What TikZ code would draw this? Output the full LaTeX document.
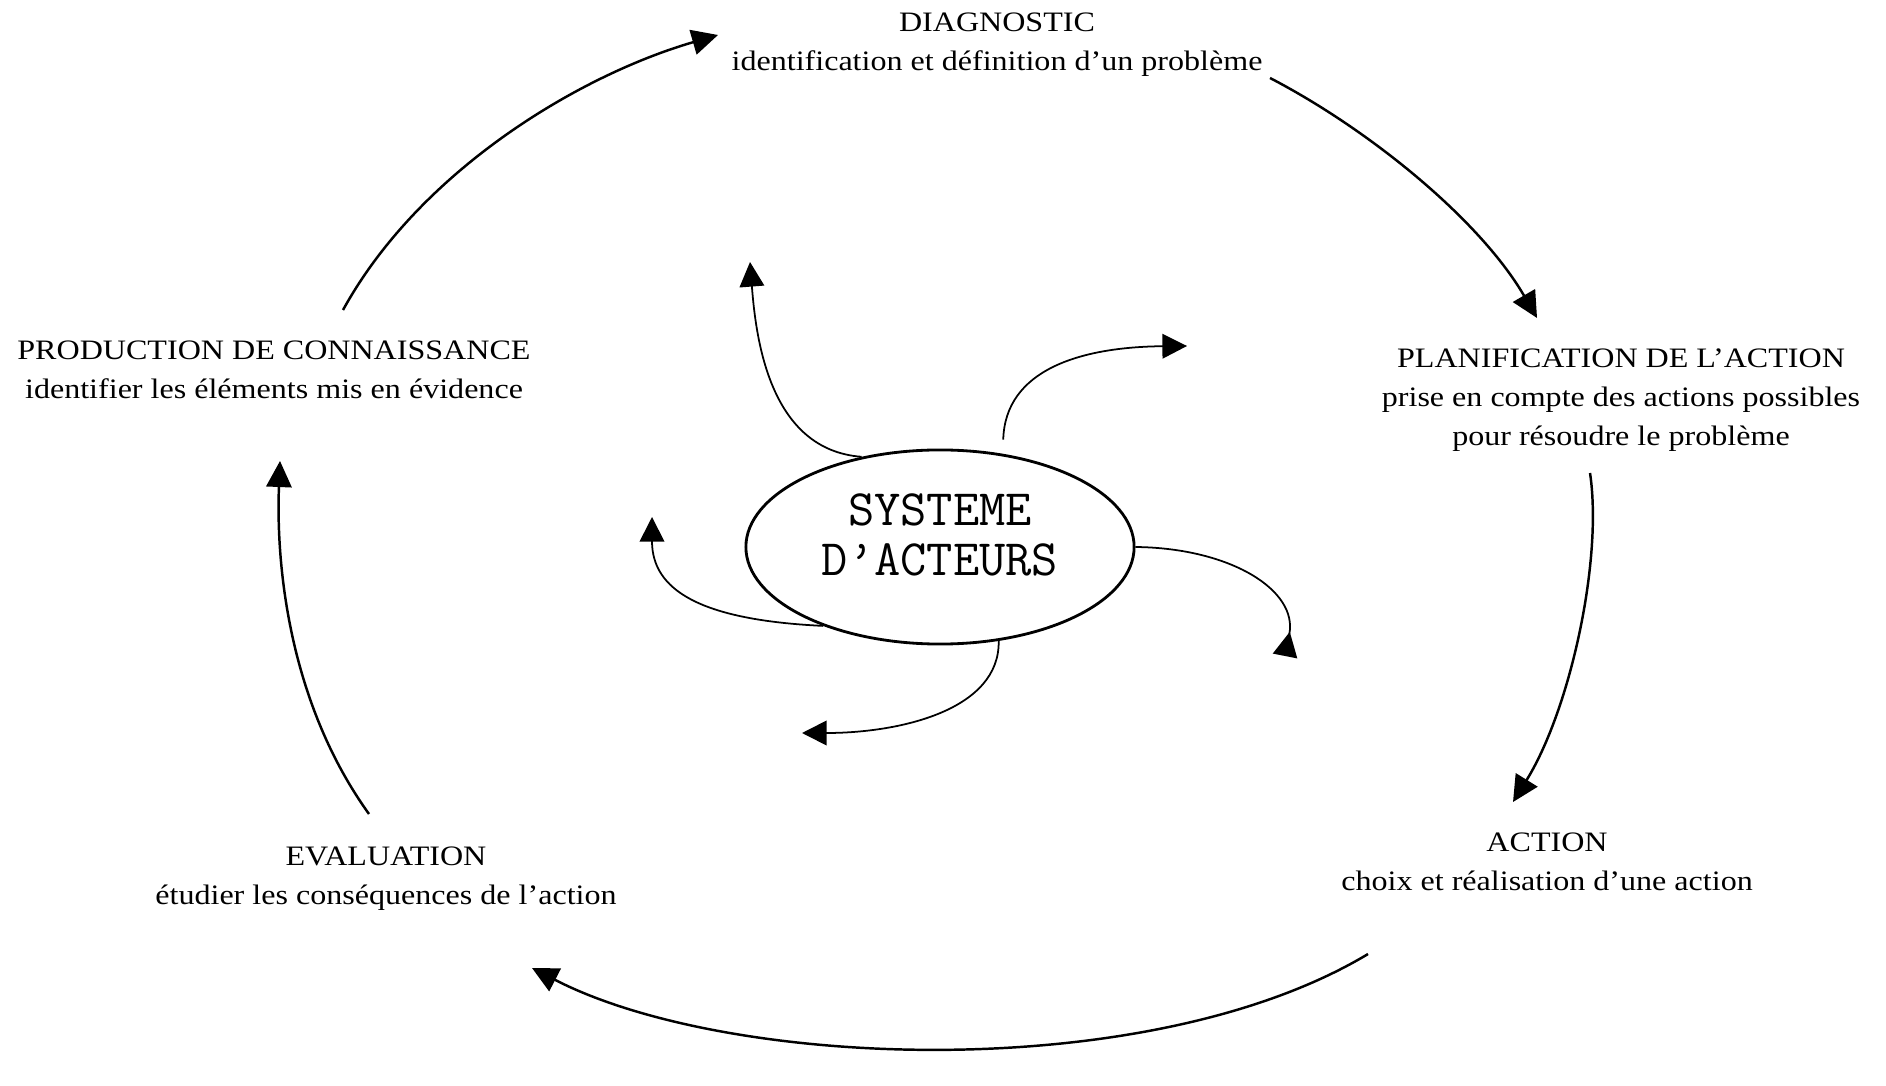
\documentclass[tikz,border=0pt]{standalone}
\usepackage{fontspec}
\setmainfont{Liberation Serif}[FakeStretch=1.14]
\usetikzlibrary{arrows.meta,positioning,shapes.geometric}
\definecolor{ink}{HTML}{000000}
\tikzset{
  lbl/.style ={align=center,font=\fontsize{8}{11}\selectfont,text=ink,inner sep=0pt},
  sys/.style ={ellipse,draw=ink,line width=.8pt,minimum width=3.88cm,minimum height=1.94cm,inner sep=0pt,align=center,font=\ttfamily\addfontfeature{FakeStretch=1.04}\fontsize{14.5}{14.2}\selectfont,text=ink},
  a/.style   ={-{Triangle[length=7.4pt,width=7.2pt]},line width=.7pt,ink},
  ai/.style  ={-{Triangle[length=7pt,width=7pt]},line width=.5pt,ink},
}

\begin{document}
\begin{tikzpicture}[x=0.01cm,y=-0.01cm]
\useasboundingbox (0,0) rectangle (1886,1086);

% ===== stages of the cycle =====
\node[lbl] (diag) at (997,45)   {DIAGNOSTIC\\identification et définition d’un problème};
\node[lbl] (plan) at (1621,400) {PLANIFICATION DE L’ACTION\\prise en compte des actions possibles\\pour résoudre le problème};
\node[lbl] (act)  at (1547,862) {ACTION\\choix et réalisation d’une action};
\node[lbl] (eval) at (386,879)  {EVALUATION\\étudier les conséquences de l’action};
\node[lbl] (prod) at (274,370)  {PRODUCTION DE CONNAISSANCE\\identifier les éléments mis en évidence};

% ===== outer loop =====
\coordinate (s1) at (343,310);  \coordinate (e1) at (718,35);
\coordinate (s2) at (1270,78);  \coordinate (e2) at (1537,318);
\coordinate (s3) at (1590,473); \coordinate (e3) at (1513,802);
\coordinate (s4) at (1368,954); \coordinate (e4) at (532,968);
\coordinate (s5) at (369,814);  \coordinate (e5) at (280,461);
\draw[a] (s1) .. controls (420,170) and (580,75) .. (e1);
\draw[a] (s2) .. controls (1370,130) and (1480,220) .. (e2);
\draw[a] (s3) .. controls (1603,560) and (1570,710) .. (e3);
\draw[a] (s4) .. controls (1150,1085) and (730,1070) .. (e4);
\draw[a] (s5) .. controls (287,700) and (276,560) .. (e5);

% ===== actors (centre) =====
\node[sys] (sys) at (940,547) {SYSTEME\\D’ACTEURS\\[-7.4pt]\mbox{}};
\coordinate (u1) at (750,262);
\coordinate (u2) at (1187,346);
\coordinate (u3) at (1285,656);
\coordinate (u4) at (802,733);
\coordinate (u5) at (652,517);
\draw[ai] (sys.131) .. controls (770,450) and (756,340) .. (u1);
\draw[ai,shorten <=4pt] (sys.56) .. controls (1005,370) and (1080,347) .. (u2);
\draw[ai,-{Triangle[length=7pt,width=7pt,reversed]}] (sys.east) .. controls (1230,548) and (1298,590) .. (u3);
\draw[ai] (sys.302) .. controls (1000,710) and (900,733) .. (u4);
\draw[ai] (sys.214) .. controls (700,620) and (652,590) .. (u5);
\end{tikzpicture}
\end{document}
